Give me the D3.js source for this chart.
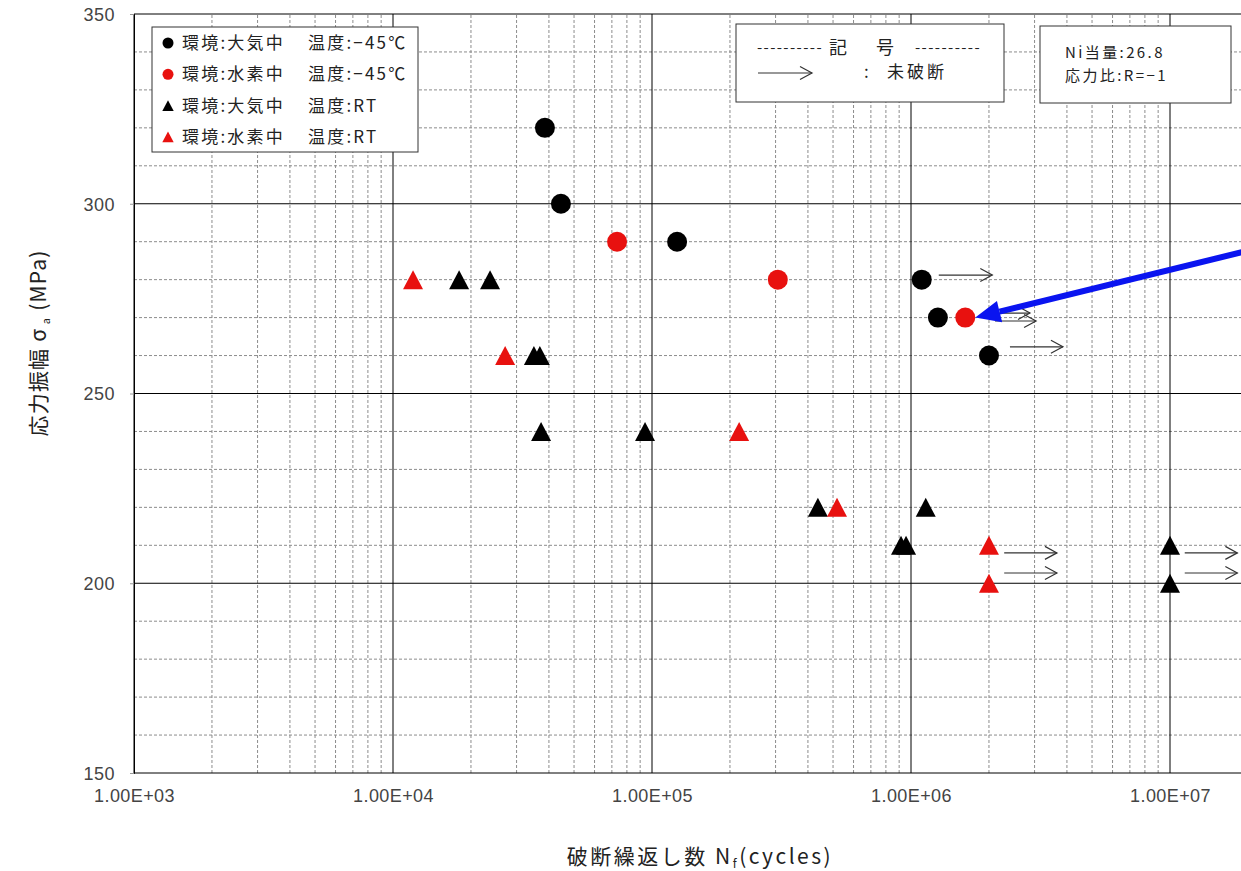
<!DOCTYPE html>
<html lang="ja">
<meta charset="utf-8">
<head>
<script src="https://d3js.org/d3.v7.min.js"></script>
<style>
  body { margin: 0; background: #fff; }
  svg text { font-family: "Noto Sans CJK JP", "DejaVu Sans", sans-serif; white-space: pre; }
</style>
</head>
<body>
<div id="my_dataviz"></div>
<script>

// cycles to failure / stress amplitude, one set per series
var airCold_N   = [38600, 44500, 125000, 1100000, 1270000, 2000000]
var airCold_S   = [320, 300, 290, 280, 270, 260]
var h2Cold_N    = [73300, 306000, 1620000]
var h2Cold_S    = [290, 280, 270]
var airRT_N     = [18000, 23700, 35000, 36900, 37300, 94000, 437000, 915000, 957000, 1140000, 10000000, 10000000]
var airRT_S     = [280, 280, 260, 260, 240, 240, 220, 210, 210, 220, 210, 200]
var h2RT_N      = [11950, 27100, 217000, 518000, 2000000, 2000000]
var h2RT_S      = [280, 260, 240, 220, 210, 200]

// run-outs (未破断): arrow start N, end N, stress level of arrow
var runout_N0 = [1280000, 2020000, 2110000, 2410000, 2290000, 2290000, 11400000, 11400000]
var runout_N1 = [2060000, 2880000, 3040000, 3860000, 3660000, 3660000, 18200000, 18200000]
var runout_S  = [281.2, 271.2, 269.1, 262.3, 208.0, 202.7, 208.0, 202.7]

var xTicks = [1e3, 1e4, 1e5, 1e6, 1e7]
var yTicks = [150, 200, 250, 300, 350]

var legendLabels = ["環境:大気中", "環境:水素中", "環境:大気中", "環境:水素中"]
var legendTemps  = ["温度:−45℃", "温度:−45℃", "温度:RT", "温度:RT"]
var legendShapes = ["circle", "circle", "triangle", "triangle"]
var legendColors = ["#000000", "#e8110f", "#000000", "#e8110f"]

var W = 1241, H = 871
var margin = {left: 134, top: 14, bottom: 98}

var svg = d3.select("#my_dataviz").append("svg")
  .attr("width", W).attr("height", H)

var x = d3.scaleLog().domain([1e3, 1e7]).range([margin.left, 1170])
var y = d3.scaleLinear().domain([150, 350]).range([H - margin.bottom, margin.top])
var xEnd = 2e7

// minor grid
var minorX = []
for (var d = 1e3; d <= 1e7; d *= 10) for (var m = 2; m <= 9; m++) minorX.push(d * m)
var minorY = d3.range(160, 350, 10).filter(v => v % 50 != 0)

svg.append("g").selectAll("line").data(minorX).enter().append("line")
  .attr("x1", d => x(d)).attr("x2", d => x(d))
  .attr("y1", y(150)).attr("y2", y(350))
  .attr("stroke", "#8c8c8c").attr("stroke-width", 1).attr("stroke-dasharray", "3,2")
svg.append("g").selectAll("line").data(minorY).enter().append("line")
  .attr("x1", x(1e3)).attr("x2", x(xEnd))
  .attr("y1", d => y(d)).attr("y2", d => y(d))
  .attr("stroke", "#8c8c8c").attr("stroke-width", 1).attr("stroke-dasharray", "3,2")

// major grid
svg.append("g").selectAll("line").data(xTicks).enter().append("line")
  .attr("x1", d => x(d)).attr("x2", d => x(d))
  .attr("y1", y(150)).attr("y2", y(350))
  .attr("stroke", "#000").attr("stroke-width", 1)
svg.append("g").selectAll("line").data(yTicks).enter().append("line")
  .attr("x1", x(1e3)).attr("x2", x(xEnd))
  .attr("y1", d => y(d)).attr("y2", d => y(d))
  .attr("stroke", "#000").attr("stroke-width", 1)

// axes labels via d3 axes
var yAxis = svg.append("g").attr("transform", "translate(" + margin.left + ",0)")
  .call(d3.axisLeft(y).tickValues(yTicks).tickSize(4).tickPadding(15))
yAxis.select(".domain").attr("stroke", "#000")
yAxis.selectAll("line").attr("stroke", "#999")
yAxis.selectAll("text").attr("font-size", 18).attr("fill", "#444")
  .style("font-family", "'Liberation Sans', sans-serif").attr("letter-spacing", "0.5").attr("dy", "0.36em")

var xAxis = svg.append("g").attr("transform", "translate(0," + y(150) + ")")
  .call(d3.axisBottom(x).tickValues(xTicks).tickSize(0).tickPadding(16)
    .tickFormat(d => "1.00E+0" + Math.round(Math.log10(d))))
xAxis.select(".domain").remove()
xAxis.selectAll("text").attr("font-size", 18).attr("fill", "#444")
  .style("font-family", "'Liberation Sans', sans-serif")
  .attr("letter-spacing", "0.4")

// axis titles
var yt = svg.append("text").attr("transform", "translate(46,343) rotate(-90)")
  .attr("text-anchor", "middle").attr("font-size", 21).attr("fill", "#222").attr("letter-spacing", "1.2")
yt.append("tspan").text("応力振幅 σ")
yt.append("tspan").attr("font-size", 11).attr("dy", 4).text(" a")
yt.append("tspan").attr("dy", -4).text(" (MPa)")

var xt = svg.append("text").attr("x", 700).attr("y", 864)
  .attr("text-anchor", "middle").attr("font-size", 21).attr("fill", "#222").attr("letter-spacing", "2.5")
xt.append("tspan").text("破断繰返し数 N")
xt.append("tspan").attr("font-size", 12).attr("dy", 4).text("f")
xt.append("tspan").attr("dy", -4).text("(cycles)")

// run-out arrows
function arrow(g, x0, x1, yy, color, w) {
  g.append("line").attr("x1", x0).attr("x2", x1).attr("y1", yy).attr("y2", yy)
    .attr("stroke", color).attr("stroke-width", w)
  g.append("path").attr("d", "M" + (x1 - 12) + "," + (yy - 6.5) + "L" + x1 + "," + yy + "L" + (x1 - 12) + "," + (yy + 6.5))
    .attr("fill", "none").attr("stroke", color).attr("stroke-width", w)
}
var ag = svg.append("g")
runout_S.forEach(function(s, i) { arrow(ag, x(runout_N0[i]), x(runout_N1[i]), y(s), "#333", 1.2) })

// markers
var triType = {
  draw: function(ctx, size) {
    var w = Math.sqrt(size), h = w * 0.95
    ctx.moveTo(0, -h / 2); ctx.lineTo(w / 2, h / 2); ctx.lineTo(-w / 2, h / 2); ctx.closePath()
  }
}
var tri = d3.symbol().type(triType).size(400)
function drawSeries(N, S, shape, color) {
  var g = svg.append("g")
  var pts = N.map((n, i) => ({n: n, s: S[i]}))
  if (shape == "circle") {
    g.selectAll("circle").data(pts).enter().append("circle")
      .attr("cx", d => x(d.n)).attr("cy", d => y(d.s)).attr("r", 10).attr("fill", color)
  } else {
    g.selectAll("path").data(pts).enter().append("path")
      .attr("d", tri).attr("transform", d => "translate(" + x(d.n) + "," + y(d.s) + ")")
      .attr("fill", color)
  }
}
drawSeries(airRT_N, airRT_S, "triangle", "#000")
drawSeries(h2RT_N, h2RT_S, "triangle", "#e8110f")
drawSeries(airCold_N, airCold_S, "circle", "#000")
drawSeries(h2Cold_N, h2Cold_S, "circle", "#e8110f")

// blue pointer arrow
var bx0 = x(2.1e7), by0 = y(288), bx1 = x(1.62e6) + 10, by1 = y(270)
var ang = Math.atan2(by1 - by0, bx1 - bx0)
var hx = bx1 - 25 * Math.cos(ang), hy = by1 - 25 * Math.sin(ang)
svg.append("line").attr("x1", bx0).attr("y1", by0).attr("x2", hx).attr("y2", hy)
  .attr("stroke", "#0a14f0").attr("stroke-width", 6)
svg.append("path")
  .attr("d", "M" + bx1 + "," + by1 +
    "L" + (hx + 11 * Math.sin(ang)) + "," + (hy - 11 * Math.cos(ang)) +
    "L" + (hx - 11 * Math.sin(ang)) + "," + (hy + 11 * Math.cos(ang)) + "Z")
  .attr("fill", "#0a14f0")

// legend
var lg = svg.append("g").attr("transform", "translate(152,27)")
lg.append("rect").attr("width", 266).attr("height", 125).attr("fill", "#fff").attr("stroke", "#333")
legendLabels.forEach(function(t, i) {
  var yy = 16 + i * 31.3
  if (legendShapes[i] == "circle")
    lg.append("circle").attr("cx", 16).attr("cy", yy).attr("r", 5.5).attr("fill", legendColors[i])
  else
    lg.append("path").attr("d", d3.symbol().type(triType).size(130))
      .attr("transform", "translate(16," + yy + ")").attr("fill", legendColors[i])
  lg.append("text").attr("x", 30).attr("y", yy).attr("dy", "0.36em").attr("letter-spacing", "2.2")
    .attr("font-size", 17).attr("fill", "#222").text(t)
  lg.append("text").attr("x", 156).attr("y", yy).attr("dy", "0.36em").attr("letter-spacing", "2.2")
    .attr("font-size", 17).attr("fill", "#222").text(legendTemps[i])
})

// symbol box
var sb = svg.append("g").attr("transform", "translate(736,24)")
sb.append("rect").attr("width", 268).attr("height", 78).attr("fill", "#fff").attr("stroke", "#333")
sb.append("text").attr("x", 87).attr("y", 24).attr("dy", "0.36em").attr("text-anchor", "end")
  .attr("font-size", 15).attr("letter-spacing", "1.4").attr("fill", "#222").text("----------")
sb.append("text").attr("x", 179).attr("y", 24).attr("dy", "0.36em")
  .attr("font-size", 15).attr("letter-spacing", "1.4").attr("fill", "#222").text("----------")
sb.append("text").attr("x", 93).attr("y", 24).attr("dy", "0.36em")
  .attr("font-size", 18).attr("fill", "#222").text("記")
sb.append("text").attr("x", 140).attr("y", 24).attr("dy", "0.36em")
  .attr("font-size", 18).attr("fill", "#222").text("号")
arrow(sb, 22, 76, 49, "#333", 1.2)
sb.append("text").attr("x", 128).attr("y", 48).attr("dy", "0.36em")
  .attr("font-size", 17).attr("fill", "#222").text(":")
sb.append("text").attr("x", 151).attr("y", 48).attr("dy", "0.36em").attr("letter-spacing", "3")
  .attr("font-size", 17).attr("fill", "#222").text("未破断")

// condition box
var cb = svg.append("g").attr("transform", "translate(1040,26)")
cb.append("rect").attr("width", 191).attr("height", 77).attr("fill", "#fff").attr("stroke", "#333")
cb.append("text").attr("x", 25).attr("y", 27).attr("dy", "0.36em").attr("letter-spacing", "2.4")
  .attr("font-size", 15).attr("fill", "#222").text("Ni当量:26.8")
cb.append("text").attr("x", 25).attr("y", 50).attr("dy", "0.36em").attr("letter-spacing", "2.4")
  .attr("font-size", 15).attr("fill", "#222").text("応力比:R=−1")

</script>
</body>
</html>
